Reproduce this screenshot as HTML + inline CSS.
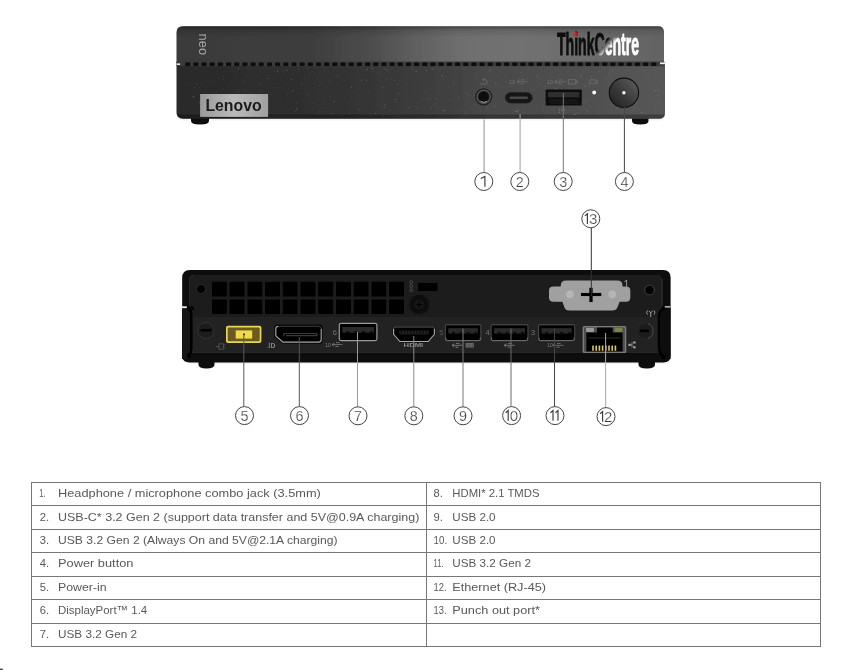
<!DOCTYPE html>
<html><head><meta charset="utf-8"><title>ThinkCentre neo ports</title>
<style>
html,body{margin:0;padding:0;background:#fff;}
body{width:847px;height:670px;overflow:hidden;font-family:"Liberation Sans",sans-serif;}
svg{display:block;font-family:"Liberation Sans",sans-serif;}
</style></head><body>
<svg width="847" height="670" viewBox="0 0 847 670">
<defs>
<linearGradient id="gTop" x1="0" x2="1" y1="0" y2="0">
<stop offset="0" stop-color="#3a3a3a"/><stop offset="0.28" stop-color="#3e3e3e"/><stop offset="0.40" stop-color="#4d4d4d"/><stop offset="0.50" stop-color="#616161"/><stop offset="0.58" stop-color="#6e6e6e"/><stop offset="0.70" stop-color="#717171"/><stop offset="0.85" stop-color="#6b6b6b"/><stop offset="1" stop-color="#636363"/>
</linearGradient>
<linearGradient id="gTopV" x1="0" x2="0" y1="0" y2="1">
<stop offset="0" stop-color="#000" stop-opacity="0.4"/><stop offset="0.1" stop-color="#000" stop-opacity="0.12"/><stop offset="0.3" stop-color="#000" stop-opacity="0"/><stop offset="1" stop-color="#000" stop-opacity="0"/>
</linearGradient>
<linearGradient id="gBot" x1="0" x2="1" y1="0" y2="0">
<stop offset="0" stop-color="#2a2a2a"/><stop offset="0.3" stop-color="#303030"/><stop offset="0.5" stop-color="#3c3c3c"/><stop offset="0.65" stop-color="#494949"/><stop offset="0.85" stop-color="#505050"/><stop offset="1" stop-color="#575757"/>
</linearGradient>
<linearGradient id="gLogo" x1="0" x2="1" y1="0" y2="0">
<stop offset="0" stop-color="#9a9a9a"/><stop offset="0.5" stop-color="#bababa"/><stop offset="1" stop-color="#a0a0a0"/>
</linearGradient>
<linearGradient id="gPwr" x1="0.1" y1="0.9" x2="0.9" y2="0.15">
<stop offset="0" stop-color="#242424"/><stop offset="0.45" stop-color="#383838"/><stop offset="1" stop-color="#5a5a5a"/>
</linearGradient>
<linearGradient id="gTC" gradientUnits="userSpaceOnUse" x1="606" y1="41" x2="611.5" y2="46">
<stop offset="0" stop-color="#111"/><stop offset="1" stop-color="#fff"/>
</linearGradient>
<filter id="blur1" x="-2%" y="-10%" width="104%" height="120%"><feGaussianBlur stdDeviation="0.45"/></filter>
<filter id="blur2"><feGaussianBlur stdDeviation="1.5"/></filter>
</defs>

<g id="front" filter="url(#blur1)">
<rect x="180" y="116" width="482" height="4" rx="2" fill="#ededed" filter="url(#blur2)"/>
<path d="M191 118 h18 v3 q0 3.5 -9 3.5 q-9 0 -9 -3.5z" fill="#111"/>
<path d="M632 118 h16.5 v3 q0 3.5 -8.2 3.5 q-8.3 0 -8.3 -3.5z" fill="#111"/>
<path d="M176.5 63 V32.5 Q176.5 26.3 183 26.3 H658 Q664 26.3 664 32 V63 Z" fill="url(#gTop)"/>
<path d="M176.5 63 V32.5 Q176.5 26.3 183 26.3 H658 Q664 26.3 664 32 V63 Z" fill="url(#gTopV)"/>
<path d="M176.5 62.5 H665 V113 Q665 118.8 659 118.8 H183 Q176.5 118.8 176.5 112 Z" fill="url(#gBot)"/>
<path d="M176.5 114.5 H665 V113 Q665 118.8 659 118.8 H183 Q176.5 118.8 176.5 112 Z" fill="#000" opacity="0.28"/>
<rect x="176.5" y="61.6" width="488" height="4.6" fill="#3a3a3a"/>
<rect x="176.5" y="63.4" width="3.6" height="1.6" fill="#e4e4e4"/>
<rect x="660" y="62.4" width="5.5" height="1.8" fill="#eee"/>
<rect x="185.20" y="62.4" width="5" height="3.6" rx="1" fill="#080808"/>
<rect x="193.38" y="62.4" width="5" height="3.6" rx="1" fill="#080808"/>
<rect x="201.55" y="62.4" width="5" height="3.6" rx="1" fill="#080808"/>
<rect x="209.73" y="62.4" width="5" height="3.6" rx="1" fill="#080808"/>
<rect x="217.91" y="62.4" width="5" height="3.6" rx="1" fill="#080808"/>
<rect x="226.08" y="62.4" width="5" height="3.6" rx="1" fill="#080808"/>
<rect x="234.26" y="62.4" width="5" height="3.6" rx="1" fill="#080808"/>
<rect x="242.44" y="62.4" width="5" height="3.6" rx="1" fill="#080808"/>
<rect x="250.62" y="62.4" width="5" height="3.6" rx="1" fill="#080808"/>
<rect x="258.79" y="62.4" width="5" height="3.6" rx="1" fill="#080808"/>
<rect x="266.97" y="62.4" width="5" height="3.6" rx="1" fill="#080808"/>
<rect x="275.15" y="62.4" width="5" height="3.6" rx="1" fill="#080808"/>
<rect x="283.32" y="62.4" width="5" height="3.6" rx="1" fill="#080808"/>
<rect x="291.50" y="62.4" width="5" height="3.6" rx="1" fill="#080808"/>
<rect x="299.68" y="62.4" width="5" height="3.6" rx="1" fill="#080808"/>
<rect x="307.86" y="62.4" width="5" height="3.6" rx="1" fill="#080808"/>
<rect x="316.03" y="62.4" width="5" height="3.6" rx="1" fill="#080808"/>
<rect x="324.21" y="62.4" width="5" height="3.6" rx="1" fill="#080808"/>
<rect x="332.39" y="62.4" width="5" height="3.6" rx="1" fill="#080808"/>
<rect x="340.56" y="62.4" width="5" height="3.6" rx="1" fill="#080808"/>
<rect x="348.74" y="62.4" width="5" height="3.6" rx="1" fill="#080808"/>
<rect x="356.92" y="62.4" width="5" height="3.6" rx="1" fill="#080808"/>
<rect x="365.09" y="62.4" width="5" height="3.6" rx="1" fill="#080808"/>
<rect x="373.27" y="62.4" width="5" height="3.6" rx="1" fill="#080808"/>
<rect x="381.45" y="62.4" width="5" height="3.6" rx="1" fill="#080808"/>
<rect x="389.62" y="62.4" width="5" height="3.6" rx="1" fill="#080808"/>
<rect x="397.80" y="62.4" width="5" height="3.6" rx="1" fill="#080808"/>
<rect x="405.98" y="62.4" width="5" height="3.6" rx="1" fill="#080808"/>
<rect x="414.16" y="62.4" width="5" height="3.6" rx="1" fill="#080808"/>
<rect x="422.33" y="62.4" width="5" height="3.6" rx="1" fill="#080808"/>
<rect x="430.51" y="62.4" width="5" height="3.6" rx="1" fill="#080808"/>
<rect x="438.69" y="62.4" width="5" height="3.6" rx="1" fill="#080808"/>
<rect x="446.86" y="62.4" width="5" height="3.6" rx="1" fill="#080808"/>
<rect x="455.04" y="62.4" width="5" height="3.6" rx="1" fill="#080808"/>
<rect x="463.22" y="62.4" width="5" height="3.6" rx="1" fill="#080808"/>
<rect x="471.39" y="62.4" width="5" height="3.6" rx="1" fill="#080808"/>
<rect x="479.57" y="62.4" width="5" height="3.6" rx="1" fill="#080808"/>
<rect x="487.75" y="62.4" width="5" height="3.6" rx="1" fill="#080808"/>
<rect x="495.93" y="62.4" width="5" height="3.6" rx="1" fill="#080808"/>
<rect x="504.10" y="62.4" width="5" height="3.6" rx="1" fill="#080808"/>
<rect x="512.28" y="62.4" width="5" height="3.6" rx="1" fill="#080808"/>
<rect x="520.46" y="62.4" width="5" height="3.6" rx="1" fill="#080808"/>
<rect x="528.63" y="62.4" width="5" height="3.6" rx="1" fill="#080808"/>
<rect x="536.81" y="62.4" width="5" height="3.6" rx="1" fill="#080808"/>
<rect x="544.99" y="62.4" width="5" height="3.6" rx="1" fill="#080808"/>
<rect x="553.16" y="62.4" width="5" height="3.6" rx="1" fill="#080808"/>
<rect x="561.34" y="62.4" width="5" height="3.6" rx="1" fill="#080808"/>
<rect x="569.52" y="62.4" width="5" height="3.6" rx="1" fill="#080808"/>
<rect x="577.70" y="62.4" width="5" height="3.6" rx="1" fill="#080808"/>
<rect x="585.87" y="62.4" width="5" height="3.6" rx="1" fill="#080808"/>
<rect x="594.05" y="62.4" width="5" height="3.6" rx="1" fill="#080808"/>
<rect x="602.23" y="62.4" width="5" height="3.6" rx="1" fill="#080808"/>
<rect x="610.40" y="62.4" width="5" height="3.6" rx="1" fill="#080808"/>
<rect x="618.58" y="62.4" width="5" height="3.6" rx="1" fill="#080808"/>
<rect x="626.76" y="62.4" width="5" height="3.6" rx="1" fill="#080808"/>
<rect x="634.93" y="62.4" width="5" height="3.6" rx="1" fill="#080808"/>
<rect x="643.11" y="62.4" width="5" height="3.6" rx="1" fill="#080808"/>
<rect x="651.29" y="62.4" width="5" height="3.6" rx="1" fill="#080808"/>
<circle cx="336.1" cy="75.2" r="0.3" fill="#fff" opacity="0.09"/>
<circle cx="438.3" cy="85.6" r="0.3" fill="#fff" opacity="0.26"/>
<circle cx="283.5" cy="72.1" r="0.55" fill="#fff" opacity="0.09"/>
<circle cx="223.7" cy="88.4" r="0.3" fill="#fff" opacity="0.27"/>
<circle cx="484.0" cy="96.0" r="0.3" fill="#fff" opacity="0.20"/>
<circle cx="371.2" cy="114.9" r="0.3" fill="#fff" opacity="0.19"/>
<circle cx="244.2" cy="88.1" r="0.3" fill="#fff" opacity="0.19"/>
<circle cx="450.0" cy="100.7" r="0.3" fill="#fff" opacity="0.20"/>
<circle cx="488.0" cy="85.9" r="0.3" fill="#fff" opacity="0.19"/>
<circle cx="478.4" cy="91.8" r="0.55" fill="#fff" opacity="0.24"/>
<circle cx="404.4" cy="112.3" r="0.45" fill="#fff" opacity="0.14"/>
<circle cx="562.9" cy="101.6" r="0.35" fill="#fff" opacity="0.10"/>
<circle cx="324.7" cy="91.8" r="0.45" fill="#fff" opacity="0.23"/>
<circle cx="318.8" cy="115.0" r="0.3" fill="#fff" opacity="0.18"/>
<circle cx="259.5" cy="84.4" r="0.55" fill="#fff" opacity="0.16"/>
<circle cx="643.7" cy="71.7" r="0.45" fill="#fff" opacity="0.15"/>
<circle cx="348.8" cy="91.8" r="0.55" fill="#fff" opacity="0.09"/>
<circle cx="225.1" cy="81.0" r="0.3" fill="#fff" opacity="0.09"/>
<circle cx="518.1" cy="99.1" r="0.55" fill="#fff" opacity="0.14"/>
<circle cx="366.0" cy="100.1" r="0.3" fill="#fff" opacity="0.27"/>
<circle cx="351.3" cy="97.3" r="0.55" fill="#fff" opacity="0.09"/>
<circle cx="550.3" cy="74.2" r="0.35" fill="#fff" opacity="0.16"/>
<circle cx="621.9" cy="91.8" r="0.35" fill="#fff" opacity="0.17"/>
<circle cx="444.8" cy="110.4" r="0.55" fill="#fff" opacity="0.25"/>
<circle cx="314.2" cy="87.9" r="0.45" fill="#fff" opacity="0.22"/>
<circle cx="363.4" cy="79.1" r="0.3" fill="#fff" opacity="0.12"/>
<circle cx="291.8" cy="79.2" r="0.55" fill="#fff" opacity="0.25"/>
<circle cx="267.9" cy="81.5" r="0.35" fill="#fff" opacity="0.16"/>
<circle cx="358.0" cy="95.2" r="0.35" fill="#fff" opacity="0.22"/>
<circle cx="428.5" cy="97.6" r="0.3" fill="#fff" opacity="0.17"/>
<circle cx="599.8" cy="113.7" r="0.55" fill="#fff" opacity="0.16"/>
<circle cx="370.0" cy="91.1" r="0.55" fill="#fff" opacity="0.09"/>
<circle cx="212.5" cy="78.0" r="0.35" fill="#fff" opacity="0.10"/>
<circle cx="469.6" cy="72.9" r="0.35" fill="#fff" opacity="0.19"/>
<circle cx="637.4" cy="97.5" r="0.3" fill="#fff" opacity="0.25"/>
<circle cx="476.0" cy="75.1" r="0.45" fill="#fff" opacity="0.27"/>
<circle cx="470.3" cy="90.8" r="0.3" fill="#fff" opacity="0.25"/>
<circle cx="658.7" cy="90.4" r="0.55" fill="#fff" opacity="0.14"/>
<circle cx="249.5" cy="104.0" r="0.45" fill="#fff" opacity="0.18"/>
<circle cx="513.6" cy="92.8" r="0.35" fill="#fff" opacity="0.27"/>
<circle cx="434.6" cy="75.0" r="0.3" fill="#fff" opacity="0.23"/>
<circle cx="323.7" cy="98.9" r="0.3" fill="#fff" opacity="0.22"/>
<circle cx="305.9" cy="85.6" r="0.35" fill="#fff" opacity="0.15"/>
<circle cx="287.4" cy="94.0" r="0.45" fill="#fff" opacity="0.21"/>
<circle cx="475.6" cy="105.8" r="0.35" fill="#fff" opacity="0.24"/>
<circle cx="574.4" cy="103.5" r="0.35" fill="#fff" opacity="0.12"/>
<circle cx="417.5" cy="103.1" r="0.3" fill="#fff" opacity="0.24"/>
<circle cx="407.6" cy="77.3" r="0.45" fill="#fff" opacity="0.17"/>
<circle cx="631.6" cy="115.4" r="0.45" fill="#fff" opacity="0.10"/>
<circle cx="229.2" cy="90.6" r="0.45" fill="#fff" opacity="0.12"/>
<circle cx="480.8" cy="111.2" r="0.3" fill="#fff" opacity="0.18"/>
<circle cx="494.7" cy="106.4" r="0.3" fill="#fff" opacity="0.25"/>
<circle cx="237.8" cy="86.6" r="0.35" fill="#fff" opacity="0.18"/>
<circle cx="266.0" cy="105.9" r="0.45" fill="#fff" opacity="0.10"/>
<circle cx="636.1" cy="102.6" r="0.55" fill="#fff" opacity="0.16"/>
<circle cx="636.4" cy="102.8" r="0.35" fill="#fff" opacity="0.28"/>
<circle cx="193.3" cy="96.4" r="0.55" fill="#fff" opacity="0.24"/>
<circle cx="250.5" cy="107.7" r="0.55" fill="#fff" opacity="0.21"/>
<circle cx="348.9" cy="94.3" r="0.35" fill="#fff" opacity="0.08"/>
<circle cx="565.3" cy="102.9" r="0.3" fill="#fff" opacity="0.19"/>
<circle cx="630.0" cy="88.8" r="0.35" fill="#fff" opacity="0.25"/>
<circle cx="281.7" cy="80.1" r="0.45" fill="#fff" opacity="0.18"/>
<circle cx="548.1" cy="83.6" r="0.55" fill="#fff" opacity="0.25"/>
<circle cx="209.4" cy="103.5" r="0.55" fill="#fff" opacity="0.21"/>
<circle cx="572.9" cy="92.8" r="0.35" fill="#fff" opacity="0.19"/>
<circle cx="432.3" cy="68.9" r="0.55" fill="#fff" opacity="0.24"/>
<circle cx="473.3" cy="105.2" r="0.35" fill="#fff" opacity="0.11"/>
<circle cx="408.2" cy="102.8" r="0.3" fill="#fff" opacity="0.15"/>
<circle cx="429.8" cy="94.7" r="0.3" fill="#fff" opacity="0.26"/>
<circle cx="207.4" cy="77.2" r="0.3" fill="#fff" opacity="0.23"/>
<circle cx="424.7" cy="95.0" r="0.3" fill="#fff" opacity="0.17"/>
<circle cx="475.2" cy="92.3" r="0.35" fill="#fff" opacity="0.22"/>
<circle cx="398.0" cy="93.6" r="0.55" fill="#fff" opacity="0.18"/>
<circle cx="299.4" cy="93.1" r="0.45" fill="#fff" opacity="0.26"/>
<circle cx="610.3" cy="77.7" r="0.55" fill="#fff" opacity="0.11"/>
<circle cx="238.6" cy="89.2" r="0.3" fill="#fff" opacity="0.21"/>
<circle cx="386.5" cy="78.2" r="0.45" fill="#fff" opacity="0.24"/>
<circle cx="612.4" cy="75.4" r="0.45" fill="#fff" opacity="0.11"/>
<circle cx="605.5" cy="114.4" r="0.35" fill="#fff" opacity="0.23"/>
<circle cx="225.4" cy="110.5" r="0.35" fill="#fff" opacity="0.28"/>
<circle cx="581.2" cy="75.8" r="0.55" fill="#fff" opacity="0.28"/>
<circle cx="374.6" cy="88.2" r="0.45" fill="#fff" opacity="0.14"/>
<circle cx="528.1" cy="68.9" r="0.55" fill="#fff" opacity="0.17"/>
<circle cx="188.7" cy="83.9" r="0.45" fill="#fff" opacity="0.18"/>
<circle cx="211.0" cy="115.3" r="0.35" fill="#fff" opacity="0.27"/>
<circle cx="230.5" cy="80.7" r="0.3" fill="#fff" opacity="0.26"/>
<circle cx="267.5" cy="104.3" r="0.55" fill="#fff" opacity="0.25"/>
<circle cx="505.8" cy="113.4" r="0.55" fill="#fff" opacity="0.11"/>
<circle cx="623.0" cy="95.4" r="0.45" fill="#fff" opacity="0.10"/>
<circle cx="207.7" cy="101.0" r="0.55" fill="#fff" opacity="0.26"/>
<circle cx="309.6" cy="68.8" r="0.3" fill="#fff" opacity="0.24"/>
<circle cx="220.4" cy="109.1" r="0.3" fill="#fff" opacity="0.13"/>
<circle cx="238.6" cy="68.6" r="0.55" fill="#fff" opacity="0.27"/>
<circle cx="309.1" cy="74.2" r="0.35" fill="#fff" opacity="0.27"/>
<circle cx="647.2" cy="80.6" r="0.35" fill="#fff" opacity="0.12"/>
<circle cx="330.4" cy="82.6" r="0.35" fill="#fff" opacity="0.14"/>
<circle cx="421.0" cy="76.5" r="0.45" fill="#fff" opacity="0.24"/>
<circle cx="659.3" cy="69.8" r="0.3" fill="#fff" opacity="0.23"/>
<circle cx="445.6" cy="77.1" r="0.55" fill="#fff" opacity="0.13"/>
<circle cx="395.5" cy="99.6" r="0.55" fill="#fff" opacity="0.21"/>
<circle cx="443.1" cy="110.7" r="0.45" fill="#fff" opacity="0.22"/>
<circle cx="653.5" cy="84.4" r="0.35" fill="#fff" opacity="0.16"/>
<circle cx="347.5" cy="70.6" r="0.35" fill="#fff" opacity="0.08"/>
<circle cx="481.5" cy="110.2" r="0.55" fill="#fff" opacity="0.11"/>
<circle cx="220.7" cy="108.4" r="0.45" fill="#fff" opacity="0.20"/>
<circle cx="513.9" cy="70.2" r="0.35" fill="#fff" opacity="0.11"/>
<circle cx="394.9" cy="80.6" r="0.45" fill="#fff" opacity="0.27"/>
<circle cx="443.7" cy="79.7" r="0.45" fill="#fff" opacity="0.12"/>
<circle cx="268.2" cy="84.1" r="0.3" fill="#fff" opacity="0.17"/>
<circle cx="422.3" cy="77.6" r="0.3" fill="#fff" opacity="0.10"/>
<circle cx="573.8" cy="74.9" r="0.3" fill="#fff" opacity="0.16"/>
<circle cx="324.4" cy="98.2" r="0.3" fill="#fff" opacity="0.20"/>
<circle cx="435.1" cy="104.0" r="0.55" fill="#fff" opacity="0.23"/>
<circle cx="527.4" cy="91.7" r="0.45" fill="#fff" opacity="0.22"/>
<circle cx="490.0" cy="70.1" r="0.55" fill="#fff" opacity="0.23"/>
<circle cx="571.5" cy="74.7" r="0.3" fill="#fff" opacity="0.25"/>
<circle cx="461.5" cy="110.9" r="0.35" fill="#fff" opacity="0.10"/>
<circle cx="200.2" cy="98.6" r="0.3" fill="#fff" opacity="0.16"/>
<circle cx="397.6" cy="70.4" r="0.3" fill="#fff" opacity="0.21"/>
<circle cx="508.1" cy="91.5" r="0.3" fill="#fff" opacity="0.17"/>
<circle cx="213.8" cy="112.8" r="0.3" fill="#fff" opacity="0.21"/>
<circle cx="211.8" cy="103.4" r="0.45" fill="#fff" opacity="0.24"/>
<circle cx="587.8" cy="79.3" r="0.35" fill="#fff" opacity="0.13"/>
<circle cx="493.3" cy="90.1" r="0.55" fill="#fff" opacity="0.10"/>
<circle cx="618.8" cy="81.8" r="0.3" fill="#fff" opacity="0.20"/>
<circle cx="489.8" cy="71.7" r="0.35" fill="#fff" opacity="0.15"/>
<circle cx="494.0" cy="101.3" r="0.35" fill="#fff" opacity="0.08"/>
<circle cx="209.2" cy="80.9" r="0.3" fill="#fff" opacity="0.22"/>
<circle cx="505.7" cy="82.0" r="0.45" fill="#fff" opacity="0.17"/>
<circle cx="404.8" cy="73.7" r="0.35" fill="#fff" opacity="0.14"/>
<circle cx="221.4" cy="90.7" r="0.45" fill="#fff" opacity="0.17"/>
<circle cx="575.2" cy="114.5" r="0.55" fill="#fff" opacity="0.28"/>
<circle cx="366.5" cy="112.0" r="0.35" fill="#fff" opacity="0.09"/>
<circle cx="223.5" cy="103.9" r="0.45" fill="#fff" opacity="0.27"/>
<circle cx="243.9" cy="107.4" r="0.45" fill="#fff" opacity="0.26"/>
<circle cx="519.0" cy="79.1" r="0.55" fill="#fff" opacity="0.16"/>
<circle cx="256.7" cy="113.6" r="0.55" fill="#fff" opacity="0.16"/>
<circle cx="530.5" cy="88.0" r="0.55" fill="#fff" opacity="0.14"/>
<circle cx="585.0" cy="68.1" r="0.45" fill="#fff" opacity="0.25"/>
<circle cx="237.9" cy="112.5" r="0.3" fill="#fff" opacity="0.26"/>
<circle cx="319.7" cy="85.9" r="0.55" fill="#fff" opacity="0.16"/>
<circle cx="599.3" cy="71.7" r="0.55" fill="#fff" opacity="0.23"/>
<circle cx="591.8" cy="81.5" r="0.3" fill="#fff" opacity="0.25"/>
<circle cx="317.7" cy="112.9" r="0.35" fill="#fff" opacity="0.27"/>
<circle cx="390.3" cy="83.1" r="0.45" fill="#fff" opacity="0.24"/>
<circle cx="386.2" cy="69.4" r="0.55" fill="#fff" opacity="0.26"/>
<circle cx="633.4" cy="94.4" r="0.3" fill="#fff" opacity="0.09"/>
<circle cx="533.0" cy="89.6" r="0.35" fill="#fff" opacity="0.21"/>
<circle cx="318.0" cy="70.4" r="0.35" fill="#fff" opacity="0.11"/>
<circle cx="380.0" cy="81.5" r="0.45" fill="#fff" opacity="0.23"/>
<circle cx="650.6" cy="80.5" r="0.35" fill="#fff" opacity="0.14"/>
<circle cx="448.6" cy="86.9" r="0.35" fill="#fff" opacity="0.21"/>
<circle cx="216.2" cy="92.0" r="0.55" fill="#fff" opacity="0.19"/>
<circle cx="398.3" cy="84.0" r="0.55" fill="#fff" opacity="0.17"/>
<circle cx="444.0" cy="79.7" r="0.35" fill="#fff" opacity="0.15"/>
<circle cx="223.9" cy="79.5" r="0.45" fill="#fff" opacity="0.24"/>
<circle cx="277.4" cy="69.0" r="0.55" fill="#fff" opacity="0.16"/>
<circle cx="539.5" cy="78.1" r="0.45" fill="#fff" opacity="0.15"/>
<circle cx="209.9" cy="81.3" r="0.45" fill="#fff" opacity="0.11"/>
<circle cx="422.6" cy="98.2" r="0.35" fill="#fff" opacity="0.10"/>
<circle cx="612.3" cy="86.5" r="0.55" fill="#fff" opacity="0.17"/>
<circle cx="330.4" cy="107.1" r="0.3" fill="#fff" opacity="0.11"/>
<circle cx="384.9" cy="104.7" r="0.55" fill="#fff" opacity="0.27"/>
<circle cx="416.1" cy="71.5" r="0.55" fill="#fff" opacity="0.27"/>
<circle cx="299.8" cy="73.2" r="0.35" fill="#fff" opacity="0.11"/>
<circle cx="648.4" cy="73.2" r="0.55" fill="#fff" opacity="0.10"/>
<circle cx="554.4" cy="68.1" r="0.35" fill="#fff" opacity="0.13"/>
<circle cx="623.4" cy="99.0" r="0.45" fill="#fff" opacity="0.27"/>
<circle cx="482.0" cy="93.4" r="0.55" fill="#fff" opacity="0.22"/>
<circle cx="234.0" cy="71.4" r="0.35" fill="#fff" opacity="0.16"/>
<circle cx="287.8" cy="96.9" r="0.3" fill="#fff" opacity="0.19"/>
<circle cx="660.3" cy="81.4" r="0.45" fill="#fff" opacity="0.21"/>
<circle cx="606.0" cy="90.8" r="0.35" fill="#fff" opacity="0.19"/>
<circle cx="194.1" cy="87.8" r="0.45" fill="#fff" opacity="0.09"/>
<circle cx="273.6" cy="110.5" r="0.55" fill="#fff" opacity="0.10"/>
<circle cx="289.8" cy="88.4" r="0.45" fill="#fff" opacity="0.13"/>
<circle cx="196.4" cy="84.2" r="0.55" fill="#fff" opacity="0.15"/>
<circle cx="371.0" cy="68.3" r="0.45" fill="#fff" opacity="0.23"/>
<circle cx="423.4" cy="77.9" r="0.35" fill="#fff" opacity="0.14"/>
<circle cx="575.2" cy="79.1" r="0.35" fill="#fff" opacity="0.13"/>
<circle cx="608.7" cy="73.2" r="0.55" fill="#fff" opacity="0.20"/>
<circle cx="612.1" cy="91.3" r="0.3" fill="#fff" opacity="0.27"/>
<circle cx="250.6" cy="86.9" r="0.35" fill="#fff" opacity="0.08"/>
<circle cx="467.3" cy="87.9" r="0.3" fill="#fff" opacity="0.12"/>
<circle cx="396.7" cy="102.2" r="0.45" fill="#fff" opacity="0.23"/>
<circle cx="660.8" cy="112.7" r="0.45" fill="#fff" opacity="0.12"/>
<circle cx="494.5" cy="93.2" r="0.55" fill="#fff" opacity="0.09"/>
<circle cx="500.3" cy="86.2" r="0.45" fill="#fff" opacity="0.28"/>
<circle cx="393.3" cy="73.2" r="0.3" fill="#fff" opacity="0.14"/>
<circle cx="349.4" cy="113.9" r="0.3" fill="#fff" opacity="0.19"/>
<circle cx="545.7" cy="86.2" r="0.45" fill="#fff" opacity="0.24"/>
<circle cx="388.4" cy="70.4" r="0.55" fill="#fff" opacity="0.12"/>
<circle cx="441.0" cy="89.4" r="0.45" fill="#fff" opacity="0.15"/>
<circle cx="612.4" cy="69.5" r="0.55" fill="#fff" opacity="0.13"/>
<circle cx="481.4" cy="87.4" r="0.55" fill="#fff" opacity="0.09"/>
<circle cx="210.2" cy="112.2" r="0.45" fill="#fff" opacity="0.12"/>
<circle cx="210.3" cy="97.1" r="0.45" fill="#fff" opacity="0.13"/>
<circle cx="641.6" cy="97.6" r="0.45" fill="#fff" opacity="0.23"/>
<circle cx="512.4" cy="112.4" r="0.45" fill="#fff" opacity="0.08"/>
<circle cx="544.2" cy="112.0" r="0.3" fill="#fff" opacity="0.08"/>
<circle cx="292.7" cy="90.8" r="0.55" fill="#fff" opacity="0.27"/>
<circle cx="366.3" cy="80.1" r="0.55" fill="#fff" opacity="0.24"/>
<circle cx="244.0" cy="91.8" r="0.3" fill="#fff" opacity="0.24"/>
<circle cx="536.0" cy="107.5" r="0.35" fill="#fff" opacity="0.20"/>
<circle cx="338.0" cy="83.3" r="0.45" fill="#fff" opacity="0.24"/>
<circle cx="467.1" cy="92.6" r="0.55" fill="#fff" opacity="0.23"/>
<circle cx="299.2" cy="71.1" r="0.3" fill="#fff" opacity="0.18"/>
<circle cx="442.5" cy="75.7" r="0.55" fill="#fff" opacity="0.26"/>
<circle cx="656.1" cy="80.7" r="0.3" fill="#fff" opacity="0.12"/>
<circle cx="383.0" cy="115.4" r="0.55" fill="#fff" opacity="0.11"/>
<circle cx="244.1" cy="90.1" r="0.35" fill="#fff" opacity="0.23"/>
<circle cx="588.2" cy="99.9" r="0.3" fill="#fff" opacity="0.24"/>
<circle cx="321.7" cy="81.4" r="0.45" fill="#fff" opacity="0.15"/>
<circle cx="535.7" cy="77.6" r="0.35" fill="#fff" opacity="0.12"/>
<circle cx="293.5" cy="81.5" r="0.35" fill="#fff" opacity="0.15"/>
<circle cx="370.9" cy="115.6" r="0.35" fill="#fff" opacity="0.21"/>
<circle cx="228.5" cy="90.3" r="0.3" fill="#fff" opacity="0.10"/>
<circle cx="408.8" cy="107.3" r="0.55" fill="#fff" opacity="0.26"/>
<circle cx="199.5" cy="82.1" r="0.3" fill="#fff" opacity="0.09"/>
<circle cx="469.4" cy="107.7" r="0.35" fill="#fff" opacity="0.27"/>
<circle cx="359.4" cy="109.6" r="0.55" fill="#fff" opacity="0.20"/>
<circle cx="553.5" cy="99.9" r="0.3" fill="#fff" opacity="0.10"/>
<circle cx="467.3" cy="97.8" r="0.35" fill="#fff" opacity="0.09"/>
<circle cx="343.9" cy="70.1" r="0.45" fill="#fff" opacity="0.09"/>
<circle cx="532.9" cy="111.9" r="0.3" fill="#fff" opacity="0.24"/>
<circle cx="377.1" cy="85.8" r="0.45" fill="#fff" opacity="0.10"/>
<circle cx="195.2" cy="91.8" r="0.55" fill="#fff" opacity="0.09"/>
<circle cx="228.9" cy="87.0" r="0.35" fill="#fff" opacity="0.21"/>
<circle cx="223.9" cy="75.9" r="0.45" fill="#fff" opacity="0.16"/>
<circle cx="316.6" cy="82.8" r="0.3" fill="#fff" opacity="0.14"/>
<circle cx="453.1" cy="85.1" r="0.55" fill="#fff" opacity="0.08"/>
<circle cx="549.5" cy="106.5" r="0.35" fill="#fff" opacity="0.16"/>
<circle cx="375.2" cy="113.2" r="0.55" fill="#fff" opacity="0.26"/>
<circle cx="384.2" cy="107.4" r="0.55" fill="#fff" opacity="0.20"/>
<circle cx="355.8" cy="105.1" r="0.35" fill="#fff" opacity="0.08"/>
<circle cx="445.8" cy="98.8" r="0.55" fill="#fff" opacity="0.10"/>
<circle cx="479.9" cy="85.8" r="0.35" fill="#fff" opacity="0.11"/>
<circle cx="316.5" cy="93.0" r="0.3" fill="#fff" opacity="0.10"/>
<circle cx="416.4" cy="106.6" r="0.35" fill="#fff" opacity="0.14"/>
<circle cx="583.6" cy="70.1" r="0.55" fill="#fff" opacity="0.14"/>
<circle cx="472.9" cy="98.5" r="0.3" fill="#fff" opacity="0.26"/>
<circle cx="479.0" cy="107.6" r="0.35" fill="#fff" opacity="0.21"/>
<circle cx="592.9" cy="97.8" r="0.35" fill="#fff" opacity="0.25"/>
<circle cx="268.2" cy="78.5" r="0.55" fill="#fff" opacity="0.27"/>
<circle cx="255.4" cy="85.2" r="0.35" fill="#fff" opacity="0.13"/>
<circle cx="529.4" cy="111.1" r="0.3" fill="#fff" opacity="0.26"/>
<circle cx="586.1" cy="100.3" r="0.45" fill="#fff" opacity="0.10"/>
<circle cx="469.0" cy="94.4" r="0.45" fill="#fff" opacity="0.21"/>
<circle cx="328.6" cy="80.0" r="0.55" fill="#fff" opacity="0.21"/>
<circle cx="395.4" cy="89.0" r="0.3" fill="#fff" opacity="0.08"/>
<circle cx="655.3" cy="90.3" r="0.55" fill="#fff" opacity="0.23"/>
<circle cx="555.9" cy="90.0" r="0.35" fill="#fff" opacity="0.24"/>
<circle cx="373.0" cy="71.2" r="0.45" fill="#fff" opacity="0.17"/>
<circle cx="224.2" cy="89.2" r="0.3" fill="#fff" opacity="0.09"/>
<circle cx="242.8" cy="112.3" r="0.45" fill="#fff" opacity="0.24"/>
<circle cx="426.5" cy="70.6" r="0.55" fill="#fff" opacity="0.21"/>
<circle cx="558.0" cy="69.2" r="0.3" fill="#fff" opacity="0.28"/>
<circle cx="532.9" cy="107.1" r="0.35" fill="#fff" opacity="0.11"/>
<circle cx="606.9" cy="81.8" r="0.35" fill="#fff" opacity="0.22"/>
<circle cx="527.6" cy="78.6" r="0.45" fill="#fff" opacity="0.20"/>
<circle cx="301.6" cy="83.5" r="0.45" fill="#fff" opacity="0.26"/>
<circle cx="400.0" cy="80.2" r="0.55" fill="#fff" opacity="0.12"/>
<circle cx="306.7" cy="92.3" r="0.45" fill="#fff" opacity="0.15"/>
<circle cx="275.9" cy="87.4" r="0.45" fill="#fff" opacity="0.22"/>
<circle cx="611.6" cy="76.1" r="0.45" fill="#fff" opacity="0.10"/>
<circle cx="435.8" cy="98.5" r="0.45" fill="#fff" opacity="0.27"/>
<circle cx="398.4" cy="93.0" r="0.3" fill="#fff" opacity="0.13"/>
<circle cx="438.2" cy="109.1" r="0.45" fill="#fff" opacity="0.13"/>
<circle cx="657.4" cy="95.7" r="0.45" fill="#fff" opacity="0.15"/>
<circle cx="219.2" cy="79.0" r="0.3" fill="#fff" opacity="0.14"/>
<circle cx="428.8" cy="82.9" r="0.45" fill="#fff" opacity="0.23"/>
<circle cx="540.1" cy="78.6" r="0.45" fill="#fff" opacity="0.20"/>
<circle cx="388.3" cy="92.6" r="0.3" fill="#fff" opacity="0.11"/>
<circle cx="289.5" cy="99.3" r="0.3" fill="#fff" opacity="0.09"/>
<circle cx="453.4" cy="82.6" r="0.45" fill="#fff" opacity="0.19"/>
<circle cx="379.2" cy="82.5" r="0.35" fill="#fff" opacity="0.12"/>
<circle cx="480.7" cy="90.8" r="0.35" fill="#fff" opacity="0.08"/>
<circle cx="566.3" cy="102.0" r="0.55" fill="#fff" opacity="0.10"/>
<circle cx="487.6" cy="109.8" r="0.45" fill="#fff" opacity="0.16"/>
<circle cx="307.4" cy="68.6" r="0.45" fill="#fff" opacity="0.20"/>
<circle cx="458.8" cy="96.9" r="0.55" fill="#fff" opacity="0.13"/>
<circle cx="615.5" cy="70.1" r="0.3" fill="#fff" opacity="0.16"/>
<circle cx="294.6" cy="70.8" r="0.3" fill="#fff" opacity="0.08"/>
<circle cx="445.5" cy="113.2" r="0.35" fill="#fff" opacity="0.16"/>
<circle cx="429.8" cy="98.8" r="0.55" fill="#fff" opacity="0.24"/>
<circle cx="264.2" cy="82.9" r="0.45" fill="#fff" opacity="0.21"/>
<circle cx="659.1" cy="102.8" r="0.55" fill="#fff" opacity="0.22"/>
<circle cx="183.1" cy="108.5" r="0.55" fill="#fff" opacity="0.10"/>
<circle cx="496.0" cy="76.4" r="0.3" fill="#fff" opacity="0.13"/>
<circle cx="490.4" cy="73.9" r="0.45" fill="#fff" opacity="0.22"/>
<circle cx="308.2" cy="94.6" r="0.55" fill="#fff" opacity="0.22"/>
<circle cx="622.1" cy="114.7" r="0.45" fill="#fff" opacity="0.21"/>
<circle cx="645.2" cy="78.4" r="0.3" fill="#fff" opacity="0.11"/>
<circle cx="616.1" cy="108.4" r="0.35" fill="#fff" opacity="0.27"/>
<circle cx="539.6" cy="83.7" r="0.55" fill="#fff" opacity="0.15"/>
<circle cx="295.3" cy="111.6" r="0.55" fill="#fff" opacity="0.17"/>
<circle cx="435.8" cy="68.3" r="0.3" fill="#fff" opacity="0.17"/>
<circle cx="529.3" cy="95.4" r="0.45" fill="#fff" opacity="0.24"/>
<circle cx="368.7" cy="96.1" r="0.35" fill="#fff" opacity="0.11"/>
<circle cx="193.0" cy="73.1" r="0.35" fill="#fff" opacity="0.15"/>
<circle cx="248.4" cy="69.4" r="0.3" fill="#fff" opacity="0.11"/>
<circle cx="490.2" cy="70.0" r="0.3" fill="#fff" opacity="0.23"/>
<circle cx="211.7" cy="96.3" r="0.45" fill="#fff" opacity="0.12"/>
<circle cx="640.1" cy="93.6" r="0.3" fill="#fff" opacity="0.26"/>
<circle cx="544.3" cy="102.1" r="0.55" fill="#fff" opacity="0.10"/>
<circle cx="279.2" cy="73.4" r="0.3" fill="#fff" opacity="0.27"/>
<circle cx="619.2" cy="104.2" r="0.3" fill="#fff" opacity="0.25"/>
<circle cx="484.4" cy="81.8" r="0.3" fill="#fff" opacity="0.11"/>
<circle cx="561.7" cy="99.0" r="0.45" fill="#fff" opacity="0.14"/>
<circle cx="384.3" cy="69.0" r="0.45" fill="#fff" opacity="0.27"/>
<circle cx="203.3" cy="104.5" r="0.45" fill="#fff" opacity="0.23"/>
<circle cx="470.2" cy="90.9" r="0.45" fill="#fff" opacity="0.20"/>
<circle cx="194.9" cy="87.8" r="0.55" fill="#fff" opacity="0.18"/>
<circle cx="227.4" cy="90.5" r="0.3" fill="#fff" opacity="0.19"/>
<circle cx="284.4" cy="109.4" r="0.3" fill="#fff" opacity="0.19"/>
<circle cx="318.4" cy="88.9" r="0.35" fill="#fff" opacity="0.14"/>
<circle cx="541.7" cy="70.6" r="0.45" fill="#fff" opacity="0.18"/>
<circle cx="416.9" cy="106.2" r="0.35" fill="#fff" opacity="0.27"/>
<circle cx="465.6" cy="113.9" r="0.45" fill="#fff" opacity="0.20"/>
<circle cx="256.6" cy="107.1" r="0.35" fill="#fff" opacity="0.18"/>
<circle cx="233.0" cy="98.6" r="0.3" fill="#fff" opacity="0.18"/>
<circle cx="657.7" cy="94.9" r="0.3" fill="#fff" opacity="0.21"/>
<circle cx="351.4" cy="87.3" r="0.55" fill="#fff" opacity="0.26"/>
<circle cx="539.2" cy="88.3" r="0.3" fill="#fff" opacity="0.15"/>
<circle cx="326.1" cy="88.5" r="0.35" fill="#fff" opacity="0.16"/>
<circle cx="606.1" cy="79.2" r="0.55" fill="#fff" opacity="0.11"/>
<circle cx="466.4" cy="101.1" r="0.3" fill="#fff" opacity="0.15"/>
<circle cx="337.5" cy="75.5" r="0.55" fill="#fff" opacity="0.21"/>
<circle cx="537.6" cy="76.1" r="0.55" fill="#fff" opacity="0.22"/>
<circle cx="304.0" cy="79.1" r="0.45" fill="#fff" opacity="0.17"/>
<circle cx="606.6" cy="79.4" r="0.35" fill="#fff" opacity="0.13"/>
<circle cx="543.8" cy="107.7" r="0.35" fill="#fff" opacity="0.22"/>
<circle cx="649.8" cy="102.7" r="0.45" fill="#fff" opacity="0.11"/>
<circle cx="338.1" cy="77.1" r="0.3" fill="#fff" opacity="0.11"/>
<circle cx="497.1" cy="77.4" r="0.35" fill="#fff" opacity="0.28"/>
<circle cx="563.1" cy="103.2" r="0.55" fill="#fff" opacity="0.13"/>
<circle cx="232.7" cy="111.7" r="0.45" fill="#fff" opacity="0.12"/>
<circle cx="367.2" cy="69.6" r="0.55" fill="#fff" opacity="0.25"/>
<circle cx="390.4" cy="78.7" r="0.45" fill="#fff" opacity="0.17"/>
<circle cx="248.4" cy="97.0" r="0.55" fill="#fff" opacity="0.08"/>
<circle cx="296.8" cy="108.9" r="0.55" fill="#fff" opacity="0.25"/>
<circle cx="501.9" cy="99.3" r="0.35" fill="#fff" opacity="0.22"/>
<circle cx="489.2" cy="89.8" r="0.45" fill="#fff" opacity="0.13"/>
<circle cx="517.7" cy="110.9" r="0.35" fill="#fff" opacity="0.24"/>
<circle cx="523.7" cy="98.2" r="0.45" fill="#fff" opacity="0.25"/>
<circle cx="412.7" cy="68.9" r="0.55" fill="#fff" opacity="0.18"/>
<circle cx="498.7" cy="109.9" r="0.45" fill="#fff" opacity="0.24"/>
<circle cx="367.4" cy="91.5" r="0.3" fill="#fff" opacity="0.09"/>
<circle cx="441.9" cy="75.7" r="0.35" fill="#fff" opacity="0.18"/>
<circle cx="228.7" cy="95.6" r="0.35" fill="#fff" opacity="0.22"/>
<circle cx="426.9" cy="98.7" r="0.45" fill="#fff" opacity="0.18"/>
<circle cx="377.8" cy="113.5" r="0.35" fill="#fff" opacity="0.28"/>
<circle cx="268.6" cy="92.7" r="0.3" fill="#fff" opacity="0.23"/>
<circle cx="475.9" cy="98.6" r="0.45" fill="#fff" opacity="0.13"/>
<circle cx="372.6" cy="68.6" r="0.55" fill="#fff" opacity="0.26"/>
<circle cx="483.0" cy="100.4" r="0.45" fill="#fff" opacity="0.10"/>
<circle cx="326.3" cy="87.2" r="0.35" fill="#fff" opacity="0.28"/>
<circle cx="643.1" cy="90.2" r="0.35" fill="#fff" opacity="0.11"/>
<circle cx="554.3" cy="106.9" r="0.35" fill="#fff" opacity="0.17"/>
<circle cx="450.9" cy="78.8" r="0.35" fill="#fff" opacity="0.15"/>
<circle cx="487.9" cy="107.3" r="0.55" fill="#fff" opacity="0.17"/>
<circle cx="321.9" cy="94.3" r="0.35" fill="#fff" opacity="0.24"/>
<circle cx="406.3" cy="105.6" r="0.35" fill="#fff" opacity="0.13"/>
<circle cx="361.3" cy="80.2" r="0.55" fill="#fff" opacity="0.22"/>
<circle cx="412.1" cy="106.7" r="0.45" fill="#fff" opacity="0.15"/>
<circle cx="495.4" cy="83.4" r="0.55" fill="#fff" opacity="0.17"/>
<circle cx="487.2" cy="99.6" r="0.45" fill="#fff" opacity="0.11"/>
<circle cx="326.1" cy="86.5" r="0.3" fill="#fff" opacity="0.25"/>
<circle cx="616.6" cy="105.6" r="0.35" fill="#fff" opacity="0.19"/>
<circle cx="346.4" cy="96.0" r="0.3" fill="#fff" opacity="0.12"/>
<circle cx="214.7" cy="82.1" r="0.3" fill="#fff" opacity="0.20"/>
<circle cx="591.7" cy="76.9" r="0.55" fill="#fff" opacity="0.15"/>
<circle cx="253.6" cy="111.4" r="0.35" fill="#fff" opacity="0.20"/>
<circle cx="511.6" cy="114.9" r="0.3" fill="#fff" opacity="0.21"/>
<circle cx="610.9" cy="105.8" r="0.45" fill="#fff" opacity="0.12"/>
<circle cx="513.9" cy="93.5" r="0.55" fill="#fff" opacity="0.21"/>
<circle cx="236.4" cy="73.7" r="0.55" fill="#fff" opacity="0.13"/>
<circle cx="247.2" cy="91.7" r="0.3" fill="#fff" opacity="0.18"/>
<circle cx="616.4" cy="101.6" r="0.35" fill="#fff" opacity="0.18"/>
<circle cx="440.1" cy="109.4" r="0.3" fill="#fff" opacity="0.11"/>
<circle cx="334.6" cy="101.4" r="0.55" fill="#fff" opacity="0.21"/>
<circle cx="585.2" cy="86.0" r="0.55" fill="#fff" opacity="0.28"/>
<circle cx="505.8" cy="76.7" r="0.45" fill="#fff" opacity="0.21"/>
<circle cx="193.8" cy="97.3" r="0.45" fill="#fff" opacity="0.24"/>
<circle cx="225.3" cy="91.2" r="0.35" fill="#fff" opacity="0.09"/>
<circle cx="526.2" cy="98.0" r="0.45" fill="#fff" opacity="0.10"/>
<circle cx="497.6" cy="84.4" r="0.35" fill="#fff" opacity="0.14"/>
<circle cx="344.8" cy="80.1" r="0.3" fill="#fff" opacity="0.25"/>
<circle cx="321.2" cy="107.7" r="0.55" fill="#fff" opacity="0.15"/>
<circle cx="654.4" cy="109.9" r="0.45" fill="#fff" opacity="0.27"/>
<circle cx="495.5" cy="106.0" r="0.45" fill="#fff" opacity="0.12"/>
<circle cx="523.8" cy="74.1" r="0.3" fill="#fff" opacity="0.24"/>
<circle cx="199.3" cy="102.7" r="0.55" fill="#fff" opacity="0.19"/>
<circle cx="204.0" cy="82.4" r="0.3" fill="#fff" opacity="0.09"/>
<circle cx="576.2" cy="90.8" r="0.3" fill="#fff" opacity="0.24"/>
<circle cx="618.5" cy="97.4" r="0.35" fill="#fff" opacity="0.21"/>
<circle cx="515.7" cy="96.6" r="0.3" fill="#fff" opacity="0.12"/>
<circle cx="501.5" cy="90.0" r="0.35" fill="#fff" opacity="0.10"/>
<circle cx="267.4" cy="69.8" r="0.3" fill="#fff" opacity="0.26"/>
<circle cx="496.1" cy="85.7" r="0.35" fill="#fff" opacity="0.24"/>
<circle cx="450.9" cy="80.4" r="0.45" fill="#fff" opacity="0.12"/>
<circle cx="196.5" cy="69.0" r="0.3" fill="#fff" opacity="0.18"/>
<circle cx="431.7" cy="107.6" r="0.55" fill="#fff" opacity="0.20"/>
<circle cx="622.8" cy="89.4" r="0.3" fill="#fff" opacity="0.22"/>
<circle cx="466.2" cy="115.7" r="0.35" fill="#fff" opacity="0.18"/>
<circle cx="378.8" cy="72.9" r="0.55" fill="#fff" opacity="0.12"/>
<circle cx="253.2" cy="68.7" r="0.3" fill="#fff" opacity="0.08"/>
<circle cx="502.6" cy="115.4" r="0.3" fill="#fff" opacity="0.12"/>
<circle cx="238.5" cy="90.7" r="0.45" fill="#fff" opacity="0.22"/>
<circle cx="296.8" cy="103.2" r="0.35" fill="#fff" opacity="0.26"/>
<circle cx="356.4" cy="103.9" r="0.35" fill="#fff" opacity="0.23"/>
<circle cx="220.6" cy="98.2" r="0.55" fill="#fff" opacity="0.17"/>
<circle cx="629.4" cy="80.2" r="0.3" fill="#fff" opacity="0.22"/>
<circle cx="185.5" cy="68.7" r="0.3" fill="#fff" opacity="0.16"/>
<circle cx="330.6" cy="96.8" r="0.55" fill="#fff" opacity="0.20"/>
<circle cx="332.4" cy="113.5" r="0.55" fill="#fff" opacity="0.17"/>
<circle cx="260.2" cy="114.4" r="0.3" fill="#fff" opacity="0.15"/>
<circle cx="490.8" cy="98.2" r="0.55" fill="#fff" opacity="0.18"/>
<circle cx="555.0" cy="89.7" r="0.45" fill="#fff" opacity="0.24"/>
<circle cx="453.2" cy="82.0" r="0.3" fill="#fff" opacity="0.20"/>
<circle cx="493.8" cy="106.5" r="0.45" fill="#fff" opacity="0.25"/>
<circle cx="529.8" cy="68.7" r="0.35" fill="#fff" opacity="0.20"/>
<circle cx="328.7" cy="88.6" r="0.35" fill="#fff" opacity="0.16"/>
<circle cx="510.1" cy="96.9" r="0.35" fill="#fff" opacity="0.24"/>
<circle cx="316.6" cy="68.1" r="0.45" fill="#fff" opacity="0.13"/>
<circle cx="255.8" cy="112.2" r="0.3" fill="#fff" opacity="0.14"/>
<circle cx="247.8" cy="110.7" r="0.35" fill="#fff" opacity="0.13"/>
<circle cx="590.3" cy="106.7" r="0.55" fill="#fff" opacity="0.15"/>
<circle cx="221.0" cy="94.6" r="0.55" fill="#fff" opacity="0.12"/>
<circle cx="541.6" cy="112.7" r="0.35" fill="#fff" opacity="0.14"/>
<circle cx="207.7" cy="87.0" r="0.35" fill="#fff" opacity="0.27"/>
<circle cx="462.6" cy="68.4" r="0.55" fill="#fff" opacity="0.17"/>
<circle cx="222.3" cy="106.7" r="0.3" fill="#fff" opacity="0.13"/>
<circle cx="459.4" cy="111.1" r="0.45" fill="#fff" opacity="0.18"/>
<circle cx="464.1" cy="77.1" r="0.35" fill="#fff" opacity="0.10"/>
<circle cx="568.4" cy="81.9" r="0.45" fill="#fff" opacity="0.16"/>
<circle cx="429.3" cy="75.2" r="0.3" fill="#fff" opacity="0.26"/>
<circle cx="417.8" cy="109.6" r="0.45" fill="#fff" opacity="0.21"/>
<circle cx="559.5" cy="75.5" r="0.3" fill="#fff" opacity="0.15"/>
<circle cx="430.4" cy="69.0" r="0.3" fill="#fff" opacity="0.12"/>
<circle cx="599.7" cy="95.1" r="0.35" fill="#fff" opacity="0.13"/>
<circle cx="555.6" cy="88.4" r="0.55" fill="#fff" opacity="0.23"/>
<circle cx="574.7" cy="114.2" r="0.45" fill="#fff" opacity="0.25"/>
<circle cx="343.3" cy="115.7" r="0.55" fill="#fff" opacity="0.10"/>
<circle cx="204.6" cy="94.8" r="0.55" fill="#fff" opacity="0.18"/>
<circle cx="587.6" cy="111.0" r="0.55" fill="#fff" opacity="0.26"/>
<circle cx="520.5" cy="72.3" r="0.45" fill="#fff" opacity="0.19"/>
<circle cx="488.8" cy="113.9" r="0.55" fill="#fff" opacity="0.12"/>
<circle cx="589.6" cy="85.8" r="0.35" fill="#fff" opacity="0.28"/>
<circle cx="286.9" cy="69.9" r="0.45" fill="#fff" opacity="0.27"/>
<circle cx="208.6" cy="94.5" r="0.3" fill="#fff" opacity="0.25"/>
<circle cx="202.7" cy="105.7" r="0.55" fill="#fff" opacity="0.09"/>
<circle cx="249.8" cy="104.2" r="0.35" fill="#fff" opacity="0.22"/>
<circle cx="324.0" cy="96.4" r="0.3" fill="#fff" opacity="0.17"/>
<circle cx="359.2" cy="86.7" r="0.45" fill="#fff" opacity="0.18"/>
<circle cx="261.3" cy="79.4" r="0.35" fill="#fff" opacity="0.26"/>
<circle cx="610.0" cy="90.5" r="0.35" fill="#fff" opacity="0.24"/>
<circle cx="255.7" cy="108.0" r="0.3" fill="#fff" opacity="0.27"/>
<circle cx="597.8" cy="110.7" r="0.35" fill="#fff" opacity="0.24"/>
<circle cx="641.7" cy="112.4" r="0.55" fill="#fff" opacity="0.25"/>
<circle cx="482.9" cy="89.7" r="0.45" fill="#fff" opacity="0.14"/>
<circle cx="292.7" cy="73.5" r="0.45" fill="#fff" opacity="0.11"/>
<circle cx="286.8" cy="70.7" r="0.55" fill="#fff" opacity="0.19"/>
<circle cx="249.8" cy="109.8" r="0.45" fill="#fff" opacity="0.16"/>
<circle cx="298.9" cy="69.2" r="0.45" fill="#fff" opacity="0.15"/>
<circle cx="260.9" cy="91.6" r="0.45" fill="#fff" opacity="0.17"/>
<circle cx="412.5" cy="75.4" r="0.3" fill="#fff" opacity="0.21"/>
<circle cx="559.6" cy="112.4" r="0.55" fill="#fff" opacity="0.25"/>
<circle cx="237.4" cy="104.2" r="0.45" fill="#fff" opacity="0.17"/>
<circle cx="306.1" cy="79.5" r="0.35" fill="#fff" opacity="0.10"/>
<circle cx="319.5" cy="111.0" r="0.3" fill="#fff" opacity="0.25"/>
<circle cx="651.7" cy="74.9" r="0.3" fill="#fff" opacity="0.17"/>
<circle cx="424.8" cy="92.5" r="0.55" fill="#fff" opacity="0.08"/>
<circle cx="581.1" cy="93.3" r="0.35" fill="#fff" opacity="0.15"/>
<circle cx="199.5" cy="87.6" r="0.45" fill="#fff" opacity="0.19"/>
<circle cx="246.6" cy="76.6" r="0.35" fill="#fff" opacity="0.22"/>
<circle cx="274.8" cy="71.8" r="0.3" fill="#fff" opacity="0.26"/>
<circle cx="532.3" cy="104.5" r="0.35" fill="#fff" opacity="0.12"/>
<circle cx="475.2" cy="102.0" r="0.35" fill="#fff" opacity="0.20"/>
<circle cx="277.5" cy="71.2" r="0.55" fill="#fff" opacity="0.25"/>
<circle cx="621.6" cy="92.9" r="0.45" fill="#fff" opacity="0.15"/>
<circle cx="585.8" cy="109.5" r="0.55" fill="#fff" opacity="0.10"/>
<circle cx="377.4" cy="104.6" r="0.35" fill="#fff" opacity="0.25"/>
<circle cx="308.3" cy="76.9" r="0.45" fill="#fff" opacity="0.09"/>
<circle cx="518.5" cy="95.6" r="0.3" fill="#fff" opacity="0.15"/>
<circle cx="629.3" cy="114.5" r="0.3" fill="#fff" opacity="0.10"/>
<circle cx="524.4" cy="107.2" r="0.45" fill="#fff" opacity="0.24"/>
<circle cx="598.4" cy="95.7" r="0.3" fill="#fff" opacity="0.14"/>
<circle cx="231.9" cy="103.1" r="0.55" fill="#fff" opacity="0.18"/>
<circle cx="435.7" cy="93.8" r="0.3" fill="#fff" opacity="0.13"/>
<circle cx="222.7" cy="97.7" r="0.35" fill="#fff" opacity="0.10"/>
<circle cx="300.7" cy="107.2" r="0.3" fill="#fff" opacity="0.08"/>
<circle cx="626.5" cy="103.5" r="0.45" fill="#fff" opacity="0.08"/>
<circle cx="468.9" cy="95.7" r="0.35" fill="#fff" opacity="0.22"/>
<circle cx="229.6" cy="109.7" r="0.35" fill="#fff" opacity="0.09"/>
<circle cx="239.3" cy="91.7" r="0.45" fill="#fff" opacity="0.10"/>
<circle cx="238.6" cy="110.5" r="0.35" fill="#fff" opacity="0.25"/>
<circle cx="251.0" cy="95.5" r="0.55" fill="#fff" opacity="0.11"/>
<circle cx="578.1" cy="113.0" r="0.55" fill="#fff" opacity="0.22"/>
<circle cx="467.8" cy="96.9" r="0.3" fill="#fff" opacity="0.16"/>
<circle cx="633.7" cy="105.3" r="0.45" fill="#fff" opacity="0.16"/>
<circle cx="584.2" cy="102.3" r="0.45" fill="#fff" opacity="0.24"/>
<circle cx="588.6" cy="70.6" r="0.35" fill="#fff" opacity="0.27"/>
<circle cx="630.3" cy="80.0" r="0.55" fill="#fff" opacity="0.21"/>
<circle cx="185.6" cy="73.2" r="0.35" fill="#fff" opacity="0.09"/>
<circle cx="388.7" cy="92.2" r="0.3" fill="#fff" opacity="0.13"/>
<circle cx="382.8" cy="87.1" r="0.55" fill="#fff" opacity="0.21"/>
<circle cx="570.1" cy="110.4" r="0.3" fill="#fff" opacity="0.09"/>
<circle cx="489.2" cy="80.8" r="0.45" fill="#fff" opacity="0.21"/>
<circle cx="568.7" cy="69.7" r="0.3" fill="#fff" opacity="0.13"/>
<circle cx="430.8" cy="88.8" r="0.3" fill="#fff" opacity="0.14"/>
<circle cx="327.2" cy="99.1" r="0.3" fill="#fff" opacity="0.09"/>
<circle cx="642.3" cy="112.2" r="0.45" fill="#fff" opacity="0.10"/>
<circle cx="464.5" cy="112.7" r="0.55" fill="#fff" opacity="0.10"/>
<circle cx="243.3" cy="82.1" r="0.55" fill="#fff" opacity="0.20"/>
<circle cx="312.1" cy="103.3" r="0.45" fill="#fff" opacity="0.25"/>
<circle cx="474.0" cy="95.4" r="0.55" fill="#fff" opacity="0.12"/>
<circle cx="522.4" cy="90.1" r="0.45" fill="#fff" opacity="0.20"/>
<circle cx="406.0" cy="82.9" r="0.35" fill="#fff" opacity="0.15"/>
<circle cx="271.0" cy="94.2" r="0.55" fill="#fff" opacity="0.08"/>
<text transform="translate(199.3 33.6) rotate(90)" font-size="13.5" fill="#a8a8a8" textLength="21.5" lengthAdjust="spacingAndGlyphs">neo</text>
<rect x="200.1" y="94" width="68" height="22.9" fill="url(#gLogo)"/>
<text x="205.4" y="110.5" font-size="15.6" font-weight="bold" fill="#1a1a1a" textLength="56.3" lengthAdjust="spacingAndGlyphs">Lenovo</text>
<text x="557" y="55" font-size="30.5" font-weight="bold" fill="url(#gTC)" stroke="url(#gTC)" stroke-width="1" stroke-linejoin="round" textLength="82" lengthAdjust="spacingAndGlyphs">ThinkCentre</text>
<circle cx="575.4" cy="34" r="1.9" fill="#d8242e"/>
<circle cx="483.7" cy="96.8" r="8.6" fill="#202020"/><circle cx="483.7" cy="96.8" r="6.6" fill="none" stroke="#5a5a5a" stroke-width="1.3"/><circle cx="483.7" cy="96.8" r="4.8" fill="#080808"/><path d="M480.5 101.3 a5.6 5.6 0 0 0 6.4 0" fill="none" stroke="#bbb" stroke-width="0.8"/>
<rect x="505.4" y="92.6" width="26.8" height="10.4" rx="5.2" fill="#141414" stroke="#222" stroke-width="0.8"/><rect x="509.5" y="96.6" width="18.5" height="2.4" rx="1.2" fill="#4a4a4a"/>
<rect x="545.6" y="89.6" width="36.2" height="16" rx="1.2" fill="#0d0d0d"/><rect x="548" y="92" width="31.4" height="5.2" fill="#2e2e2e"/><rect x="549.5" y="99" width="28.4" height="4.8" fill="#191919"/>
<g fill="none" stroke="#727272" stroke-width="0.75">
<path d="M480.3 84 h4.6 a2.2 2.2 0 0 0 0 -4.4 h-1.8 M484 78.2 l-1.4 1.4 l1.4 1.4"/>
<path d="M527.8 81.8 H517 M519.2 80.2 L517 81.8 L519.2 83.4 M521 79.9 h3.8 M520.5 83.7 h3.4"/>
<path d="M565.5 81.8 H554.7 M556.9 80.2 L554.7 81.8 L556.9 83.4 M558.7 79.9 h3.8 M558.2 83.7 h3.4 M568.3 79.6 h7.4 v4.4 h-7.4z M575.7 80.8 h1.7 v2 h-1.7"/>
<path d="M589.8 79.8 h6.2 v4 h-6.2z M596 80.8 h1.4 v2 h-1.4"/>
<path d="M514.8 111.5 h2.6 l1.2 -1.8 M559.3 108.4 v3 M561.8 108.4 v3 M564.3 108.4 v3"/>
</g>
<text x="509.3" y="83.9" font-size="5.8" fill="#727272" textLength="6" lengthAdjust="spacingAndGlyphs">10</text>
<text x="546.9" y="83.9" font-size="5.8" fill="#727272" textLength="6" lengthAdjust="spacingAndGlyphs">10</text>
<circle cx="594.2" cy="92.5" r="1.9" fill="#fff"/>
<circle cx="623.9" cy="92.8" r="15" fill="url(#gPwr)"/><circle cx="623.9" cy="92.8" r="14.7" fill="none" stroke="#101010" stroke-width="1.1"/><circle cx="623.9" cy="92.8" r="1.7" fill="#fff"/>
</g>
<g id="callouts" opacity="0.999">
<line x1="484.1" y1="119.5" x2="484.1" y2="172.6" stroke="#909090" stroke-width="1"/>
<circle cx="483.8" cy="181.5" r="9.0" fill="#fff" stroke="#444" stroke-width="1"/>
<path d="M480.70 178.60 L484.90 176.40 V186.70" fill="none" stroke="#383838" stroke-width="1.15" stroke-linejoin="miter"/>
<line x1="520.1" y1="114" x2="520.1" y2="172.6" stroke="#a0a0a0" stroke-width="1"/>
<circle cx="519.8" cy="181.5" r="9.0" fill="#fff" stroke="#444" stroke-width="1"/>
<text x="519.8" y="186.7" font-size="14.4" text-anchor="middle" fill="#383838" stroke="#fff" stroke-width="0.25">2</text>
<line x1="563.3" y1="93" x2="563.3" y2="172.6" stroke="#777" stroke-width="1"/>
<circle cx="563.2" cy="181.5" r="9.0" fill="#fff" stroke="#444" stroke-width="1"/>
<text x="563.2" y="186.7" font-size="14.4" text-anchor="middle" fill="#383838" stroke="#fff" stroke-width="0.25">3</text>
<line x1="624.4" y1="107" x2="624.4" y2="172.6" stroke="#484848" stroke-width="1"/>
<circle cx="624.4" cy="181.5" r="9.0" fill="#fff" stroke="#444" stroke-width="1"/>
<text x="624.4" y="186.7" font-size="14.4" text-anchor="middle" fill="#383838" stroke="#fff" stroke-width="0.25">4</text>
</g>
<g id="back" filter="url(#blur1)">
<rect x="188" y="359" width="478" height="4.5" rx="2" fill="#ececec" filter="url(#blur2)"/>
<path d="M198.5 361 h16 v3.5 q0 4 -8 4 q-8 0 -8 -4z" fill="#0c0c0c"/>
<path d="M638.5 361 h16.5 v3.5 q0 4 -8.2 4 q-8.3 0 -8.3 -4z" fill="#0c0c0c"/>
<path d="M182.2 278 Q182.2 270 190 270 H663 Q670.6 270 670.6 277.5 V355.5 Q670.6 362.4 663.5 362.4 H189.5 Q182.2 362.4 182.2 355.5 Z" fill="#080808"/>
<path d="M189.6 280 Q189.6 275 194.6 275 H657.5 Q662 275 662 279.5 V352.3 H189.6 Z" fill="#1d1d1d"/>
<rect x="189.6" y="317" width="472.4" height="35.3" fill="#202020"/>
<path d="M189.3 306 V280 Q189.3 275.3 194 275.3" fill="none" stroke="#303030" stroke-width="0.9"/>
<rect x="186" y="351.8" width="480" height="1" fill="#343434"/>
<rect x="186" y="352.8" width="480" height="8" fill="#0e0e0e"/>
<rect x="661.6" y="279" width="0.9" height="27" fill="#3a3a3a"/>
<path d="M182 307 H187 Q190.5 308 191.5 314 V346 Q191.5 353 188 357 L186 359 H182 Z" fill="#171717"/>
<path d="M186.5 307.5 Q191 309 191.5 315 V346 Q191.5 353 188.5 356.5" fill="none" stroke="#000" stroke-width="2.4"/>
<circle cx="189" cy="355.3" r="2.4" fill="#000"/><circle cx="191.5" cy="308.3" r="2.4" fill="#000"/>
<rect x="182" y="306.3" width="4.8" height="1.8" fill="#f0f0f0"/>
<path d="M670.6 307 H665.5 Q660 308.5 659 315 V346 Q659 353 662.5 357 L664.5 359 H670.6 Z" fill="#0c0c0c"/>
<path d="M666 307.5 Q660 309 659 315 V346 Q659 353 663 357.5" fill="none" stroke="#000" stroke-width="2.6"/>
<circle cx="663.5" cy="357" r="2.4" fill="#000"/>
<rect x="664.8" y="306.2" width="5.8" height="1.3" fill="#d8d8d8"/>
<circle cx="201" cy="289" r="4.2" fill="#050505"/><circle cx="201" cy="289" r="4.6" fill="none" stroke="#2c2c2c" stroke-width="0.8"/>
<circle cx="649.5" cy="290" r="4.4" fill="#050505"/><circle cx="649.5" cy="290" r="4.9" fill="none" stroke="#3a3a3a" stroke-width="1"/>
<rect x="211.90" y="281.80" width="14.9" height="14.8" rx="0.8" fill="#000"/>
<rect x="229.62" y="281.80" width="14.9" height="14.8" rx="0.8" fill="#000"/>
<rect x="247.34" y="281.80" width="14.9" height="14.8" rx="0.8" fill="#000"/>
<rect x="265.06" y="281.80" width="14.9" height="14.8" rx="0.8" fill="#000"/>
<rect x="282.78" y="281.80" width="14.9" height="14.8" rx="0.8" fill="#000"/>
<rect x="300.50" y="281.80" width="14.9" height="14.8" rx="0.8" fill="#000"/>
<rect x="318.22" y="281.80" width="14.9" height="14.8" rx="0.8" fill="#000"/>
<rect x="335.94" y="281.80" width="14.9" height="14.8" rx="0.8" fill="#000"/>
<rect x="353.66" y="281.80" width="14.9" height="14.8" rx="0.8" fill="#000"/>
<rect x="371.38" y="281.80" width="14.9" height="14.8" rx="0.8" fill="#000"/>
<rect x="389.10" y="281.80" width="14.9" height="14.8" rx="0.8" fill="#000"/>
<rect x="211.90" y="299.30" width="14.9" height="14.8" rx="0.8" fill="#000"/>
<rect x="229.62" y="299.30" width="14.9" height="14.8" rx="0.8" fill="#000"/>
<rect x="247.34" y="299.30" width="14.9" height="14.8" rx="0.8" fill="#000"/>
<rect x="265.06" y="299.30" width="14.9" height="14.8" rx="0.8" fill="#000"/>
<rect x="282.78" y="299.30" width="14.9" height="14.8" rx="0.8" fill="#000"/>
<rect x="300.50" y="299.30" width="14.9" height="14.8" rx="0.8" fill="#000"/>
<rect x="318.22" y="299.30" width="14.9" height="14.8" rx="0.8" fill="#000"/>
<rect x="335.94" y="299.30" width="14.9" height="14.8" rx="0.8" fill="#000"/>
<rect x="353.66" y="299.30" width="14.9" height="14.8" rx="0.8" fill="#000"/>
<rect x="371.38" y="299.30" width="14.9" height="14.8" rx="0.8" fill="#000"/>
<rect x="389.10" y="299.30" width="14.9" height="14.8" rx="0.8" fill="#000"/>
<g fill="none" stroke="#4c4c4c" stroke-width="0.9"><circle cx="411.3" cy="282.2" r="1.5"/><circle cx="411.3" cy="286.2" r="1.5"/><circle cx="411.3" cy="290.2" r="1.5"/></g>
<rect x="418" y="283" width="19.6" height="8" rx="0.6" fill="#000"/>
<circle cx="419.3" cy="304.4" r="10.7" fill="#0b0b0b"/><circle cx="419.3" cy="304.4" r="10.2" fill="none" stroke="#242424" stroke-width="0.9"/><circle cx="419.3" cy="304.4" r="5" fill="#171717"/><path d="M416.3 304.4 h6 M419.3 301.4 v6" stroke="#050505" stroke-width="1.4"/>
<circle cx="205.9" cy="330.6" r="8.2" fill="#1d1d1d" stroke="#343434" stroke-width="1"/><rect x="200.4" y="328.9" width="11" height="2.8" rx="1.3" fill="#000"/>
<circle cx="645.2" cy="331" r="8.2" fill="#1c1c1c" stroke="#2c2c2c" stroke-width="1"/><path d="M648 323.6 A8 8 0 0 1 648 338.4" fill="none" stroke="#4a4a4a" stroke-width="1"/><rect x="640" y="329.6" width="9" height="2.6" rx="1.2" fill="#000"/>
<rect x="226" y="325.8" width="35.4" height="17.2" rx="2" fill="#e8d658"/><rect x="227.7" y="327.5" width="32" height="13.8" rx="0.8" fill="#6b5a20"/><rect x="235.7" y="330.4" width="16.5" height="8.2" fill="#f2da4a"/><rect x="243.2" y="333.5" width="1.8" height="1.8" fill="#2a2200"/>
<g fill="none" stroke="#555" stroke-width="0.9"><path d="M216 346.5 h3 M219 343.8 h4.5 v5.4 h-4.5z M223.5 345 h2 M223.5 348 h2"/></g>
<path d="M274.2 328 Q274.2 324.8 277.4 324.8 H319.4 Q322.6 324.8 322.6 328 V340.2 Q322.6 343.4 319.4 343.4 H282.4 L274.2 336.4 Z" fill="#030303"/>
<path d="M275.8 336 V329 Q275.8 326.3 278.5 326.3" fill="none" stroke="#b0b0b0" stroke-width="1.1"/>
<path d="M278.5 326.3 H318.5 Q321.2 326.3 321.2 329" fill="none" stroke="#3c3c3c" stroke-width="1"/>
<path d="M321.2 329 V339.4 Q321.2 342.1 318.5 342.1 H283 L275.8 336" fill="none" stroke="#a8a8a8" stroke-width="1.1"/>
<path d="M283.7 336 V334.6 Q283.7 333.5 285 333.5 H316.8 V335.6 H286" fill="none" stroke="#3a3a3a" stroke-width="1.2"/>
<text x="270.6" y="348" font-size="6.8" font-weight="bold" fill="#8a8a8a">D</text><path d="M269.3 342.6 v5.4" stroke="#8a8a8a" stroke-width="0.9"/><path d="M267.3 347.6 h1.2" stroke="#777" stroke-width="0.8"/>
<rect x="339.3" y="323.4" width="37.6" height="17.2" rx="1.8" fill="#050505" stroke="#9a9a9a" stroke-width="1.2"/>
<rect x="342.3" y="327.0" width="31.6" height="5.7" fill="#2a2a2a"/>
<rect x="346.1" y="331.1" width="3.2" height="1.6" fill="#0a0a0a"/>
<rect x="354.0" y="331.1" width="3.2" height="1.6" fill="#0a0a0a"/>
<rect x="361.9" y="331.1" width="3.2" height="1.6" fill="#0a0a0a"/>
<rect x="369.8" y="331.1" width="3.2" height="1.6" fill="#0a0a0a"/>
<rect x="445.3" y="324.6" width="35.6" height="16" rx="1.8" fill="#050505" stroke="#444" stroke-width="1.2"/>
<path d="M445.8 337.6 V339.1 Q445.8 340.6 447.3 340.6 H478.90000000000003 Q480.40000000000003 340.6 480.40000000000003 339.1 V337.6" fill="none" stroke="#6e6e6e" stroke-width="1"/>
<rect x="448.3" y="328.20000000000005" width="29.6" height="5.3" fill="#2a2a2a"/>
<rect x="451.9" y="331.9" width="3.0" height="1.6" fill="#0a0a0a"/>
<rect x="459.3" y="331.9" width="3.0" height="1.6" fill="#0a0a0a"/>
<rect x="466.7" y="331.9" width="3.0" height="1.6" fill="#0a0a0a"/>
<rect x="474.1" y="331.9" width="3.0" height="1.6" fill="#0a0a0a"/>
<rect x="491" y="324.6" width="37" height="16" rx="1.8" fill="#050505" stroke="#444" stroke-width="1.2"/>
<path d="M491.5 337.6 V339.1 Q491.5 340.6 493 340.6 H526 Q527.5 340.6 527.5 339.1 V337.6" fill="none" stroke="#6e6e6e" stroke-width="1"/>
<rect x="494" y="328.20000000000005" width="31" height="5.3" fill="#2a2a2a"/>
<rect x="497.7" y="331.9" width="3.1" height="1.6" fill="#0a0a0a"/>
<rect x="505.5" y="331.9" width="3.1" height="1.6" fill="#0a0a0a"/>
<rect x="513.2" y="331.9" width="3.1" height="1.6" fill="#0a0a0a"/>
<rect x="521.0" y="331.9" width="3.1" height="1.6" fill="#0a0a0a"/>
<rect x="538.5" y="324.6" width="36.2" height="16" rx="1.8" fill="#050505" stroke="#444" stroke-width="1.2"/>
<path d="M539.0 337.6 V339.1 Q539.0 340.6 540.5 340.6 H572.7 Q574.2 340.6 574.2 339.1 V337.6" fill="none" stroke="#6e6e6e" stroke-width="1"/>
<rect x="541.5" y="328.20000000000005" width="30.200000000000003" height="5.3" fill="#2a2a2a"/>
<rect x="545.1" y="331.9" width="3.0" height="1.6" fill="#0a0a0a"/>
<rect x="552.7" y="331.9" width="3.0" height="1.6" fill="#0a0a0a"/>
<rect x="560.2" y="331.9" width="3.0" height="1.6" fill="#0a0a0a"/>
<rect x="567.8" y="331.9" width="3.0" height="1.6" fill="#0a0a0a"/>
<text x="332.8" y="334.6" font-size="7.4" fill="#777">6</text>
<text x="439.3" y="334.6" font-size="7.4" fill="#5a5a5a">5</text>
<text x="485.4" y="334.6" font-size="7.4" fill="#777">4</text>
<text x="531" y="334.6" font-size="7.4" fill="#777">3</text>
<path d="M392.8 328 Q392.8 326.2 394.6 326.2 H433.4 Q435.2 326.2 435.2 328 V334.6 L428.6 342.2 H399.4 L392.8 334.6 Z" fill="#040404"/>
<path d="M393.6 328.4 V334.4 L399.8 341.5 H428.2 L434.4 334.4 V328.4" fill="none" stroke="#aaa" stroke-width="1.1"/>
<path d="M393.6 328.4 Q393.6 327 395 327 H433 Q434.4 327 434.4 328.4" fill="none" stroke="#5a5a5a" stroke-width="1"/>
<rect x="399.5" y="330.6" width="29" height="3.6" fill="#242424"/>
<rect x="400.6" y="331.3" width="1.5" height="2.2" fill="#0a0a0a"/>
<rect x="403.7" y="331.3" width="1.5" height="2.2" fill="#0a0a0a"/>
<rect x="406.8" y="331.3" width="1.5" height="2.2" fill="#0a0a0a"/>
<rect x="409.9" y="331.3" width="1.5" height="2.2" fill="#0a0a0a"/>
<rect x="413.0" y="331.3" width="1.5" height="2.2" fill="#0a0a0a"/>
<rect x="416.1" y="331.3" width="1.5" height="2.2" fill="#0a0a0a"/>
<rect x="419.2" y="331.3" width="1.5" height="2.2" fill="#0a0a0a"/>
<rect x="422.3" y="331.3" width="1.5" height="2.2" fill="#0a0a0a"/>
<rect x="425.4" y="331.3" width="1.5" height="2.2" fill="#0a0a0a"/>
<text x="403.6" y="346.6" font-size="4.9" font-weight="bold" fill="#8c8c8c" textLength="19.6" lengthAdjust="spacingAndGlyphs">HDMI</text>
<text x="325.2" y="346.6" font-size="5.6" fill="#808080" textLength="5.6" lengthAdjust="spacingAndGlyphs">10</text>
<g fill="none" stroke="#808080" stroke-width="0.8"><path d="M342.5 344.6 H332 M334.2 343.0 L332 344.6 L334.2 346.20000000000005 M336 342.70000000000005 h3.6 M335.4 346.5 h3.2"/></g>
<g fill="none" stroke="#8a8a8a" stroke-width="0.8"><path d="M462.5 345.3 H452 M454.2 343.7 L452 345.3 L454.2 346.90000000000003 M456 343.40000000000003 h3.6 M455.4 347.2 h3.2"/></g>
<rect x="465.6" y="343" width="8.2" height="4.6" fill="#6a6a6a"/><path d="M466.5 344.3 h6.4 M466.5 345.3 h6.4 M466.5 346.3 h6.4" stroke="#2a2a2a" stroke-width="0.4" stroke-dasharray="0.8 0.6"/>
<g fill="none" stroke="#8a8a8a" stroke-width="0.8"><path d="M514.7 345.3 H504.2 M506.4 343.7 L504.2 345.3 L506.4 346.90000000000003 M508.2 343.40000000000003 h3.6 M507.59999999999997 347.2 h3.2"/></g>
<text x="547.2" y="347.3" font-size="5.6" fill="#808080" textLength="5.6" lengthAdjust="spacingAndGlyphs">10</text>
<g fill="none" stroke="#808080" stroke-width="0.8"><path d="M563.5 345.3 H553 M555.2 343.7 L553 345.3 L555.2 346.90000000000003 M557 343.40000000000003 h3.6 M556.4 347.2 h3.2"/></g>
<path d="M566 280.4 H617.5 Q622 280.4 622.3 284 L622.5 286.4 H626 Q630.3 286.4 630.3 290.5 V297.6 Q630.3 301.8 626 301.8 H619.6 L617.6 307 Q616.5 310.6 612 310.6 H569.5 Q565.3 310.6 564.3 307 L562.4 301.8 H553.5 Q549 301.8 549 297.6 V290.5 Q549 286.4 553.5 286.4 H560.6 L561 284 Q561.5 280.4 566 280.4 Z" fill="#a0a0a0"/>
<circle cx="570" cy="294.4" r="3.8" fill="#b6b6b6"/><circle cx="612.2" cy="294.4" r="3.8" fill="#b6b6b6"/>
<path d="M581 294.5 h20.3" stroke="#050505" stroke-width="3.1"/><path d="M591 287.8 v14.2" stroke="#050505" stroke-width="3.3"/>
<text x="623.6" y="288" font-size="10.5" fill="#9a9a9a">1</text>
<g fill="none" stroke="#9a9a9a" stroke-width="1"><path d="M650.7 312 v5 M648.8 311 l1.9 1.6 l1.9 -1.6 M647.5 314.5 a3 3 0 0 1 0 -4 M654 314.5 a3 3 0 0 0 0 -4"/></g>
<rect x="582.6" y="326" width="43.7" height="27.1" rx="1.5" fill="#7b7b7b"/><rect x="584" y="327.4" width="40.9" height="24.4" fill="#4e4e4e"/>
<path d="M586.3 351.5 V332.5 H597 V327.6 H612.7 V332.5 H622.6 V351.5 Z" fill="#050505"/>
<rect x="586" y="328" width="8" height="4" rx="1" fill="#9a9a9a"/><rect x="614.5" y="328" width="8" height="4" rx="1" fill="#7c8444"/>
<rect x="588.5" y="337.5" width="32" height="1" fill="#2a2a2a"/>
<rect x="592.20" y="345.6" width="1.6" height="5.2" fill="#e2c46c"/>
<rect x="595.40" y="345.6" width="1.6" height="5.2" fill="#e2c46c"/>
<rect x="598.60" y="345.6" width="1.6" height="5.2" fill="#e2c46c"/>
<rect x="601.80" y="345.6" width="1.6" height="5.2" fill="#e2c46c"/>
<rect x="605.00" y="345.6" width="1.6" height="5.2" fill="#e2c46c"/>
<rect x="608.20" y="345.6" width="1.6" height="5.2" fill="#e2c46c"/>
<rect x="611.40" y="345.6" width="1.6" height="5.2" fill="#e2c46c"/>
<rect x="614.60" y="345.6" width="1.6" height="5.2" fill="#e2c46c"/>
<g fill="#a0a0a0"><rect x="628.4" y="343.8" width="2.4" height="2.2"/><rect x="633.2" y="341.4" width="2.4" height="2.2"/><rect x="633.2" y="346.2" width="2.4" height="2.2"/><rect x="631.6" y="342.4" width="0.8" height="5"/><rect x="630.6" y="344.5" width="1.4" height="0.8"/></g>
</g>
<g id="callouts2" opacity="0.999">
<line x1="243.8" y1="335.4" x2="243.8" y2="406.6" stroke="#5a5a5a" stroke-width="1"/>
<circle cx="244.5" cy="415.6" r="9.0" fill="#fff" stroke="#444" stroke-width="1"/>
<text x="244.5" y="420.8" font-size="14.4" text-anchor="middle" fill="#383838" stroke="#fff" stroke-width="0.25">5</text>
<line x1="299.3" y1="337.2" x2="299.3" y2="406.6" stroke="#555" stroke-width="1"/>
<circle cx="299.5" cy="415.6" r="9.0" fill="#fff" stroke="#444" stroke-width="1"/>
<text x="299.5" y="420.8" font-size="14.4" text-anchor="middle" fill="#383838" stroke="#fff" stroke-width="0.25">6</text>
<line x1="357.5" y1="332" x2="357.5" y2="406.8" stroke="#999" stroke-width="1"/>
<circle cx="358" cy="415.8" r="9.0" fill="#fff" stroke="#444" stroke-width="1"/>
<text x="358" y="421.0" font-size="14.4" text-anchor="middle" fill="#383838" stroke="#fff" stroke-width="0.25">7</text>
<line x1="413.8" y1="336" x2="413.8" y2="406.8" stroke="#8a8a8a" stroke-width="1"/>
<circle cx="413.8" cy="415.8" r="9.0" fill="#fff" stroke="#444" stroke-width="1"/>
<text x="413.8" y="421.0" font-size="14.4" text-anchor="middle" fill="#383838" stroke="#fff" stroke-width="0.25">8</text>
<line x1="463" y1="328.5" x2="463" y2="406.8" stroke="#7a7a7a" stroke-width="1"/>
<circle cx="463" cy="415.8" r="9.0" fill="#fff" stroke="#444" stroke-width="1"/>
<text x="463" y="421.0" font-size="14.4" text-anchor="middle" fill="#383838" stroke="#fff" stroke-width="0.25">9</text>
<line x1="511" y1="328.5" x2="511" y2="406.6" stroke="#6a6a6a" stroke-width="1"/>
<circle cx="511.6" cy="415.6" r="9.0" fill="#fff" stroke="#444" stroke-width="1"/>
<path d="M505.70 412.70 L508.20 410.50 V420.80" fill="none" stroke="#383838" stroke-width="1.15" stroke-linejoin="miter"/>
<text x="509.70" y="420.80" font-size="14.4" fill="#383838" stroke="#fff" stroke-width="0.25" textLength="8.4" lengthAdjust="spacingAndGlyphs">0</text>
<line x1="554.5" y1="328.5" x2="554.5" y2="406.6" stroke="#444" stroke-width="1"/>
<circle cx="555" cy="415.6" r="9.0" fill="#fff" stroke="#444" stroke-width="1"/>
<path d="M550.50 412.70 L553.00 410.50 V420.80" fill="none" stroke="#383838" stroke-width="1.15" stroke-linejoin="miter"/>
<path d="M555.50 412.70 L558.00 410.50 V420.80" fill="none" stroke="#383838" stroke-width="1.15" stroke-linejoin="miter"/>
<line x1="605.6" y1="333" x2="605.6" y2="407.6" stroke="#aaa" stroke-width="1"/>
<circle cx="606" cy="416.6" r="9.0" fill="#fff" stroke="#444" stroke-width="1"/>
<path d="M600.10 413.70 L602.60 411.50 V421.80" fill="none" stroke="#383838" stroke-width="1.15" stroke-linejoin="miter"/>
<text x="604.10" y="421.80" font-size="14.4" fill="#383838" stroke="#fff" stroke-width="0.25" textLength="8.4" lengthAdjust="spacingAndGlyphs">2</text>
<line x1="591.3" y1="228" x2="591.3" y2="296" stroke="#333" stroke-width="1"/>
<circle cx="590.8" cy="218.8" r="9.0" fill="#fff" stroke="#444" stroke-width="1"/>
<path d="M584.90 215.90 L587.40 213.70 V224.00" fill="none" stroke="#383838" stroke-width="1.15" stroke-linejoin="miter"/>
<text x="588.90" y="224.00" font-size="14.4" fill="#383838" stroke="#fff" stroke-width="0.25" textLength="8.4" lengthAdjust="spacingAndGlyphs">3</text>
</g>
<g id="table" fill="none" stroke="#777" stroke-width="1">
<rect x="31.5" y="482.50" width="789" height="164.00"/>
<line x1="31.5" y1="505.50" x2="820.5" y2="505.50"/>
<line x1="31.5" y1="529.50" x2="820.5" y2="529.50"/>
<line x1="31.5" y1="552.50" x2="820.5" y2="552.50"/>
<line x1="31.5" y1="576.50" x2="820.5" y2="576.50"/>
<line x1="31.5" y1="599.50" x2="820.5" y2="599.50"/>
<line x1="31.5" y1="623.50" x2="820.5" y2="623.50"/>
<line x1="426.5" y1="482.50" x2="426.5" y2="646.50"/>
</g>
<g id="tabletext" font-size="11.2" fill="#585858" opacity="0.999">
<text x="39.3" y="497.25" textLength="6.2" lengthAdjust="spacingAndGlyphs">1.</text><text x="58" y="497.25" textLength="262.8" lengthAdjust="spacingAndGlyphs">Headphone / microphone combo jack (3.5mm)</text>
<text x="39.8" y="520.65">2.</text><text x="58" y="520.65" textLength="361.3" lengthAdjust="spacingAndGlyphs">USB-C* 3.2 Gen 2 (support data transfer and 5V@0.9A charging)</text>
<text x="39.8" y="544.05">3.</text><text x="58" y="544.05" textLength="279.5" lengthAdjust="spacingAndGlyphs">USB 3.2 Gen 2 (Always On and 5V@2.1A charging)</text>
<text x="39.8" y="567.45">4.</text><text x="58" y="567.45" textLength="75.5" lengthAdjust="spacingAndGlyphs">Power button</text>
<text x="39.8" y="590.85">5.</text><text x="58" y="590.85" textLength="48.6" lengthAdjust="spacingAndGlyphs">Power-in</text>
<text x="39.8" y="614.25">6.</text><text x="58" y="614.25" textLength="89.2" lengthAdjust="spacingAndGlyphs">DisplayPort™ 1.4</text>
<text x="39.8" y="637.65">7.</text><text x="58" y="637.65" textLength="79" lengthAdjust="spacingAndGlyphs">USB 3.2 Gen 2</text>
<text x="433.6" y="497.25">8.</text><text x="452.3" y="497.25" textLength="87.2" lengthAdjust="spacingAndGlyphs">HDMI* 2.1 TMDS</text>
<text x="433.6" y="520.65">9.</text><text x="452.3" y="520.65" textLength="43.3" lengthAdjust="spacingAndGlyphs">USB 2.0</text>
<text x="433.6" y="544.05" textLength="13.5" lengthAdjust="spacingAndGlyphs">10.</text><text x="452.3" y="544.05" textLength="43.3" lengthAdjust="spacingAndGlyphs">USB 2.0</text>
<text x="433.6" y="567.45" textLength="10" lengthAdjust="spacingAndGlyphs">11.</text><text x="452.3" y="567.45" textLength="78.6" lengthAdjust="spacingAndGlyphs">USB 3.2 Gen 2</text>
<text x="433.6" y="590.85" textLength="13" lengthAdjust="spacingAndGlyphs">12.</text><text x="452.3" y="590.85" textLength="93.7" lengthAdjust="spacingAndGlyphs">Ethernet (RJ-45)</text>
<text x="433.6" y="614.25" textLength="13" lengthAdjust="spacingAndGlyphs">13.</text><text x="452.3" y="614.25" textLength="87.7" lengthAdjust="spacingAndGlyphs">Punch out port*</text>
</g>
<rect x="0" y="668.6" width="2.8" height="1.4" fill="#444"/>
</svg></body></html>
